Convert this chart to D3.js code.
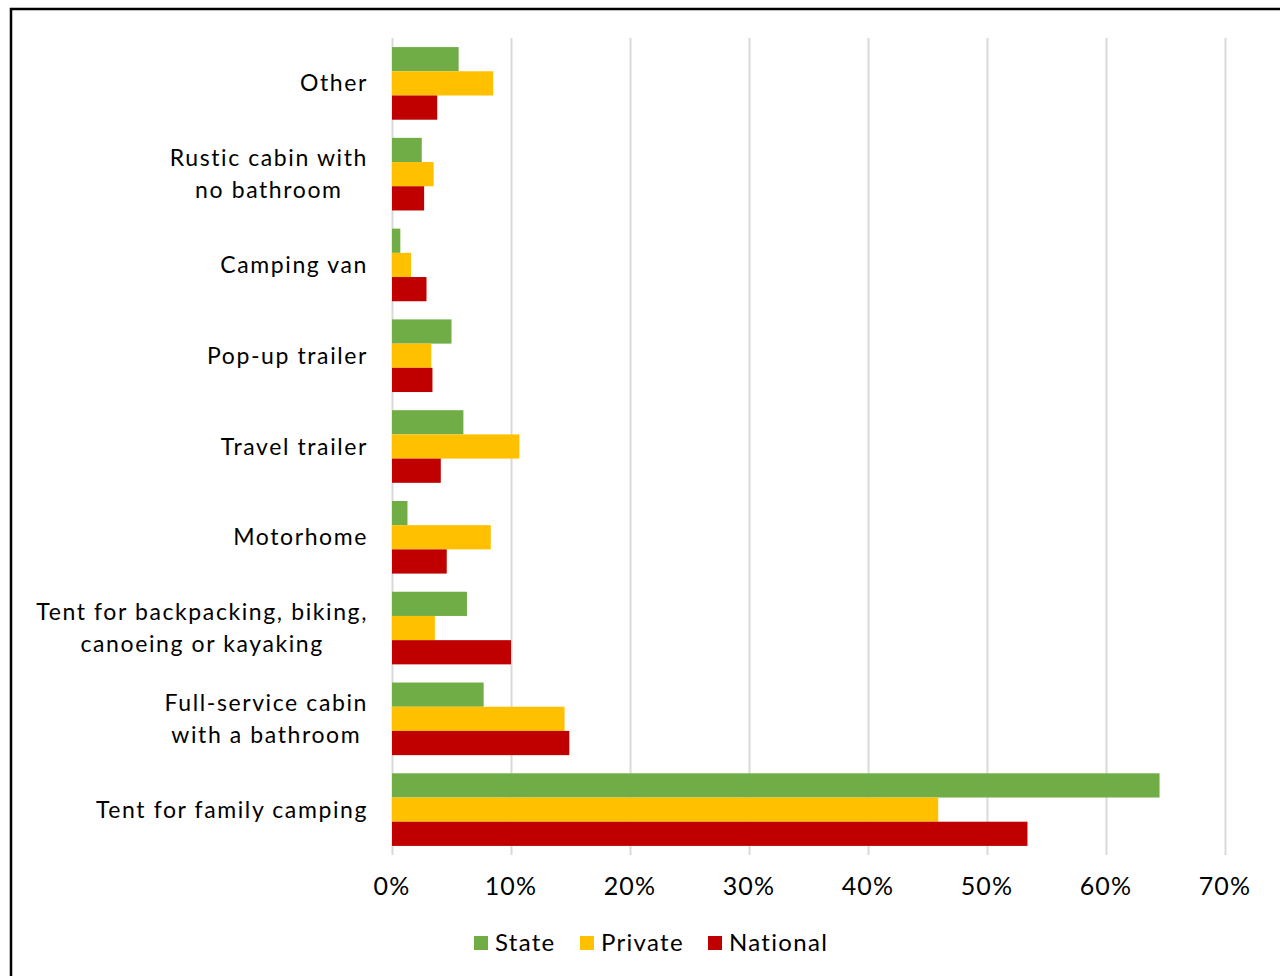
<!DOCTYPE html>
<html>
<head>
	<meta charset="UTF-8"/>
	<title>Camping equipment by park type</title>
	<style type="text/css">
		body { margin: 0; background: #fff; }
		svg { display: block; }
		text { font-family: 'Lato', sans-serif; fill: #000; }
		.grid line { stroke: #d9d9d9; stroke-width: 2; }
		.grid path { stroke-width: 0; }
	</style>
	<script src="https://d3js.org/d3.v7.min.js"></script>
</head>
<body>
	<svg width="1280" height="976"></svg>
	<script>
		// categories from top to bottom
		const categories = [
			'Other',
			'Rustic cabin with|no bathroom',
			'Camping van',
			'Pop-up trailer',
			'Travel trailer',
			'Motorhome',
			'Tent for backpacking, biking,|canoeing or kayaking',
			'Full-service cabin|with a bathroom',
			'Tent for family camping'
		];
		const seriesNames = ['State', 'Private', 'National'];
		const seriesColors = ['#70ad47', '#ffc000', '#c00000'];

		const stateValues = [5.6, 2.5, 0.7, 5.0, 6.0, 1.3, 6.3, 7.7, 64.5];
		const privateValues = [8.5, 3.5, 1.6, 3.3, 10.7, 8.3, 3.6, 14.5, 45.9];
		const nationalValues = [3.8, 2.7, 2.9, 3.4, 4.1, 4.6, 10.0, 14.9, 53.4];
		const xTicks = [0, 10, 20, 30, 40, 50, 60, 70];

		const allValues = [stateValues, privateValues, nationalValues];

		const svg = d3.select('svg');

		// outer frame
		svg.append('rect')
			.attr('x', 11).attr('y', 9)
			.attr('width', 1300).attr('height', 1000)
			.attr('fill', 'none')
			.attr('stroke', '#000')
			.attr('stroke-width', 2.5);

		const x = d3.scaleLinear().domain([0, 70]).range([392, 1225]);
		const y = d3.scaleBand().domain(categories).range([38, 855])
			.paddingInner(0.2).paddingOuter(0.1);
		const ySub = d3.scaleBand().domain(seriesNames).range([0, y.bandwidth()]);

		// vertical gridlines
		svg.append('g')
			.attr('class', 'grid')
			.attr('transform', 'translate(0,38)')
			.call(d3.axisBottom(x).tickValues(xTicks).tickSize(817).tickFormat(''));

		// bars
		const groups = svg.append('g').selectAll('g')
			.data(categories)
			.join('g')
			.attr('transform', d => `translate(0,${y(d)})`);

		groups.selectAll('rect')
			.data((d, i) => seriesNames.map((s, j) => ({ s, j, v: allValues[j][i] })))
			.join('rect')
			.attr('x', x(0))
			.attr('y', d => ySub(d.s))
			.attr('width', d => x(d.v) - x(0))
			.attr('height', ySub.bandwidth())
			.attr('fill', d => seriesColors[d.j]);

		// category labels: lines centred on each other, block right-aligned
		svg.append('g').selectAll('text')
			.data(categories)
			.join('text')
			.attr('text-anchor', 'middle')
			.attr('font-size', 23)
			.attr('letter-spacing', 1.6)
			.each(function (d) {
				const lines = d.split('|');
				const cy = y(d) + y.bandwidth() / 2;
				const t = d3.select(this);
				const spans = lines.map((ln, k) => t.append('tspan')
					.attr('y', cy + 8 + (k - (lines.length - 1) / 2) * 32)
					.text(ln));
				const w = d3.max(spans, s => s.node().getComputedTextLength());
				spans.forEach(s => s.attr('x', 368 - w / 2));
			});

		// x tick labels
		svg.append('g').selectAll('text')
			.data(xTicks)
			.join('text')
			.attr('x', d => x(d))
			.attr('y', 895)
			.attr('text-anchor', 'middle')
			.attr('font-size', 25)
			.attr('letter-spacing', 1.2)
			.text(d => d + '%');

		// legend
		const legendX = [474, 580, 708];
		const legend = svg.append('g').selectAll('g')
			.data(seriesNames)
			.join('g')
			.attr('transform', (d, i) => `translate(${legendX[i]},936)`);
		legend.append('rect')
			.attr('width', 14).attr('height', 14)
			.attr('fill', (d, i) => seriesColors[i]);
		legend.append('text')
			.attr('x', 21).attr('y', 15)
			.attr('font-size', 24)
			.attr('letter-spacing', 1.3)
			.text(d => d);
	</script>
</body>
</html>
